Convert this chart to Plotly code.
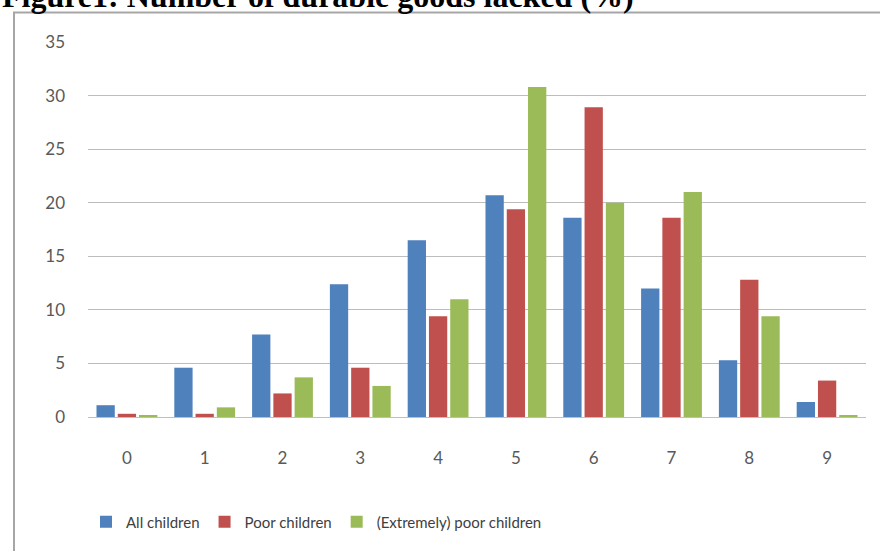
import plotly.graph_objects as go

# Number of durable goods lacked, share of children (%)
categories = ["0", "1", "2", "3", "4", "5", "6", "7", "8", "9"]
all_children = [1.1, 4.6, 7.7, 12.4, 16.5, 20.7, 18.6, 12.0, 5.3, 1.4]
poor_children = [0.3, 0.3, 2.2, 4.6, 9.4, 19.4, 28.9, 18.6, 12.8, 3.4]
extremely_poor = [0.1, 0.9, 3.7, 2.9, 11.0, 30.8, 20.0, 21.0, 9.4, 0.1]
y_ticks = [0, 5, 10, 15, 20, 25, 30, 35]

series = [
    ("All children", all_children, "#4F81BD"),
    ("Poor children", poor_children, "#C0504D"),
    ("(Extremely) poor children", extremely_poor, "#9BBB59"),
]

W, H = 880, 551
ML, MR, MT, MB = 88, 14, 42, 134
pw, ph = W - ML - MR, H - MT - MB


def px_x(x):
    return (x - ML) / pw


def px_y(y):
    return (H - MB - y) / ph


fig = go.Figure()
for name, vals, color in series:
    fig.add_trace(go.Bar(x=categories, y=vals, name=name,
                         marker=dict(color=color, line=dict(width=0))))

tick_font = dict(family="Lato, 'Open Sans', sans-serif", size=17, color="#595959")
frame_color = "#A6A6A6"

fig.update_layout(
    width=W, height=H,
    margin=dict(l=ML, r=MR, t=MT, b=MB),
    paper_bgcolor="white", plot_bgcolor="white",
    barmode="group", bargap=0.18, bargroupgap=0.14,
    showlegend=True,
    legend=dict(orientation="h", x=px_x(86), xanchor="left",
                y=px_y(522), yanchor="middle",
                font=dict(family="Lato, 'Open Sans', sans-serif", size=15, color="#404040"),
                itemwidth=30, traceorder="normal"),
    xaxis=dict(type="category", showgrid=False, showline=True,
               linecolor="#BFBFBF", linewidth=1, ticks="",
               ticklabelstandoff=26, tickfont=tick_font),
    yaxis=dict(range=[0, 35], tickvals=y_ticks, showgrid=True,
               gridcolor="#BDBDBD", gridwidth=1, zeroline=False,
               showline=False, ticks="", ticklabelstandoff=22,
               tickfont=tick_font),
    shapes=[
        dict(type="line", xref="paper", yref="paper",
             x0=px_x(14), x1=px_x(14), y0=px_y(12), y1=px_y(H + 2),
             line=dict(color=frame_color, width=2)),
        dict(type="line", xref="paper", yref="paper",
             x0=px_x(13), x1=px_x(W + 2), y0=px_y(12.5), y1=px_y(12.5),
             line=dict(color=frame_color, width=2)),
    ],
    annotations=[
        dict(text="<b>Figure1: Number of durable goods lacked (%)</b>",
             xref="paper", yref="paper", x=px_x(0), xanchor="left",
             y=px_y(16), yanchor="bottom", showarrow=False,
             font=dict(family="'Liberation Serif', 'Times New Roman', serif",
                       size=32, color="black")),
    ],
)

fig.write_html("out.html")
